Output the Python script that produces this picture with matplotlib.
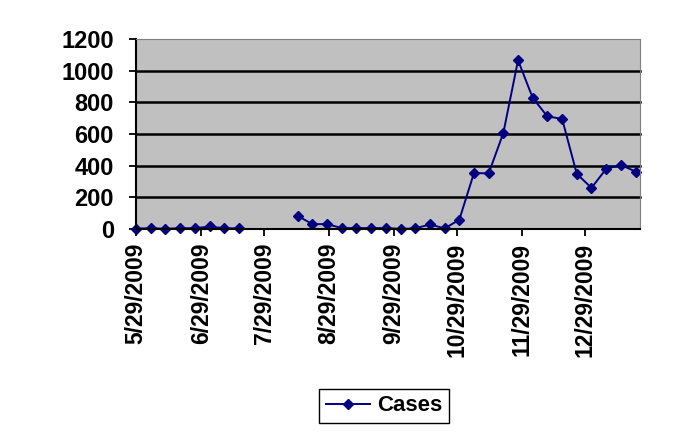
import matplotlib
matplotlib.use("Agg")
import matplotlib.pyplot as plt
import numpy as np
from datetime import date, timedelta

# weekly case counts (Fridays); July/early August missing
start1 = date(2009, 5, 29)
cases1 = [2, 4, 1, 4, 4, 15, 4, 3]
start2 = date(2009, 8, 14)
cases2 = [82, 30, 30, 5, 5, 5, 5, 0, 3, 28, 3, 57,
          353, 350, 606, 1065, 827, 710, 695, 347, 259, 379, 404, 362]

dates1 = [start1 + timedelta(weeks=i) for i in range(len(cases1))]
dates2 = [start2 + timedelta(weeks=i) for i in range(len(cases2))]

tick_dates = [date(2009, m, 29) for m in range(5, 13)]
tick_labels = [f"{d.month}/{d.day}/{d.year}" for d in tick_dates]
y_ticks = [0, 200, 400, 600, 800, 1000, 1200]

plt.rcParams['font.family'] = ['Liberation Sans', 'DejaVu Sans']
plt.rcParams['font.weight'] = 'bold'

fig = plt.figure(figsize=(6.77, 4.47), dpi=100)
ax = fig.add_axes([0.201, 0.488, 0.744, 0.425])
ax.set_facecolor('#C0C0C0')

line_kw = dict(color='#000080', marker='D', markersize=5.5, linewidth=1.4)
ax.plot(dates1, cases1, label='Cases', **line_kw)
ax.plot(dates2, cases2, **line_kw)

ax.set_ylim(0, 1200)
ax.set_yticks(y_ticks)
ax.set_xlim(date(2009, 5, 29), date(2010, 1, 24))
ax.set_xticks(tick_dates)
ax.set_xticklabels(tick_labels, rotation=90)
ax.tick_params(axis='x', labelsize=16.5, length=5, width=1.3, pad=5)
ax.tick_params(axis='y', labelsize=17, length=5, width=1.3, pad=11)

for yv in y_ticks[1:-1]:
    ax.axhline(yv, color='black', linewidth=1.8, zorder=1)

ax.spines['left'].set_linewidth(1.5)
ax.spines['bottom'].set_linewidth(1.5)
ax.spines['top'].set_color('#808080')
ax.spines['right'].set_color('#808080')
for l in ax.lines:
    l.set_clip_on(False)

fig.legend(loc='center', bbox_to_anchor=(0.567, 0.092), fontsize=16,
           frameon=True, fancybox=False, edgecolor='black', framealpha=1,
           handlelength=2.0, handletextpad=0.3, borderpad=0.3)

plt.savefig('out.png', dpi=100)
